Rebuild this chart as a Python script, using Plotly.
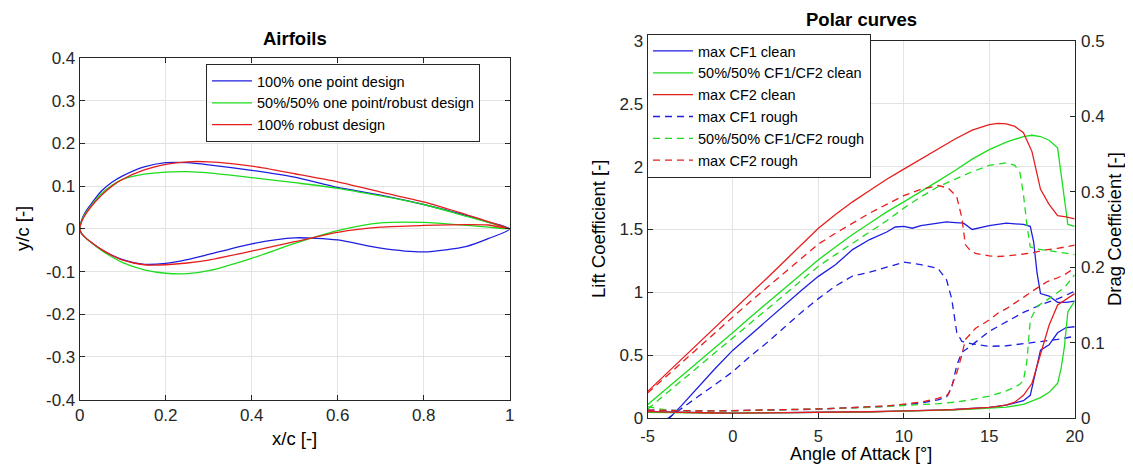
import plotly.graph_objects as go

# ---------------- Airfoil data ----------------
x_af = [0, 0.005, 0.0125, 0.025, 0.05, 0.075, 0.1, 0.15, 0.2, 0.25, 0.3, 0.4, 0.5, 0.6, 0.7, 0.8, 0.9, 0.95, 1.0]
up_one_point = [0, 0.022, 0.038, 0.056, 0.088, 0.109, 0.124, 0.145, 0.155, 0.155, 0.150, 0.137, 0.121, 0.097, 0.079, 0.057, 0.031, 0.016, 0]
lo_one_point = [0, -0.012, -0.02, -0.03, -0.048, -0.062, -0.072, -0.083, -0.081, -0.072, -0.06, -0.035, -0.021, -0.026, -0.045, -0.054, -0.041, -0.023, 0]
up_mixed = [0, 0.02, 0.035, 0.052, 0.082, 0.102, 0.116, 0.128, 0.133, 0.134, 0.131, 0.12, 0.108, 0.095, 0.077, 0.057, 0.029, 0.015, 0]
lo_mixed = [0, -0.012, -0.02, -0.031, -0.05, -0.066, -0.079, -0.096, -0.104, -0.105, -0.098, -0.069, -0.034, -0.004, 0.014, 0.015, 0.008, 0.004, 0]
up_robust = [0, 0.018, 0.032, 0.05, 0.078, 0.1, 0.116, 0.138, 0.151, 0.157, 0.157, 0.147, 0.129, 0.11, 0.086, 0.063, 0.033, 0.017, 0]
lo_robust = [0, -0.012, -0.02, -0.03, -0.048, -0.062, -0.073, -0.084, -0.084, -0.08, -0.073, -0.052, -0.03, -0.008, 0.004, 0.008, 0.01, 0.009, 0]
airfoil_names = ["100% one point design", "50%/50% one point/robust design", "100% robust design"]

# ---------------- Polar data ----------------
aoa_cf1_clean = [-5, -4, -3, -2, -1, 0, 1, 2, 3, 4, 5, 6, 7, 8, 9, 9.5, 10, 10.5, 11, 12, 12.5, 13, 13.5, 14, 14.5, 15, 16, 17, 17.4, 17.6, 17.8, 18, 18.5, 19, 19.5, 20]
cl_cf1_clean = [-0.19, -0.04, 0.10, 0.25, 0.40, 0.54, 0.66, 0.78, 0.90, 1.015, 1.127, 1.22, 1.34, 1.42, 1.48, 1.52, 1.525, 1.51, 1.53, 1.55, 1.56, 1.555, 1.55, 1.50, 1.515, 1.53, 1.55, 1.54, 1.525, 1.40, 1.15, 0.99, 0.97, 0.92, 0.92, 0.93]
cd_cf1_clean = [0.0085, 0.0078, 0.0072, 0.0068, 0.0066, 0.0065, 0.0066, 0.0067, 0.0069, 0.0071, 0.0074, 0.0077, 0.008, 0.0083, 0.0087, 0.0089, 0.0091, 0.0094, 0.0097, 0.0104, 0.0108, 0.0113, 0.0118, 0.0125, 0.0133, 0.0142, 0.017, 0.023, 0.03, 0.05, 0.072, 0.09, 0.097, 0.113, 0.12, 0.121]

aoa_mix_clean = [-5, -4, -3, -2, -1, 0, 1, 2, 3, 4, 5, 6, 7, 8, 9, 10, 11, 12, 13, 14, 15, 16, 17, 17.5, 18, 18.5, 19, 19.2, 19.4, 19.6, 20]
cl_mix_clean = [0.106, 0.22, 0.335, 0.45, 0.565, 0.68, 0.80, 0.915, 1.03, 1.145, 1.26, 1.36, 1.46, 1.55, 1.64, 1.72, 1.80, 1.885, 1.97, 2.06, 2.135, 2.195, 2.24, 2.25, 2.24, 2.21, 2.15, 1.95, 1.72, 1.54, 1.525]
cd_mix_clean = [0.0075, 0.007, 0.0067, 0.0065, 0.0064, 0.0064, 0.0065, 0.0066, 0.0068, 0.007, 0.0073, 0.0076, 0.0079, 0.0082, 0.0086, 0.009, 0.0095, 0.0101, 0.0108, 0.0117, 0.0128, 0.0145, 0.018, 0.022, 0.027, 0.034, 0.046, 0.065, 0.095, 0.141, 0.155]

aoa_cf2_clean = [-5, -4, -3, -2, -1, 0, 1, 2, 3, 4, 5, 6, 7, 8, 9, 10, 11, 12, 13, 14, 15, 15.5, 16, 16.5, 17, 17.5, 18, 18.5, 19, 19.5, 20]
cl_cf2_clean = [0.21, 0.338, 0.466, 0.594, 0.722, 0.85, 0.982, 1.114, 1.246, 1.378, 1.51, 1.62, 1.72, 1.81, 1.90, 1.98, 2.06, 2.14, 2.22, 2.29, 2.335, 2.345, 2.34, 2.32, 2.27, 2.12, 1.82, 1.70, 1.61, 1.60, 1.585]
cd_cf2_clean = [0.0085, 0.0078, 0.0072, 0.0068, 0.0066, 0.0065, 0.0066, 0.0067, 0.0069, 0.0071, 0.0074, 0.0077, 0.008, 0.0083, 0.0087, 0.0091, 0.0097, 0.0104, 0.0113, 0.0125, 0.0142, 0.0155, 0.0175, 0.021, 0.03, 0.046, 0.085, 0.123, 0.15, 0.158, 0.165]

aoa_cf1_rough = [-5, -4, -3, -2, -1, 0, 1, 2, 3, 4, 5, 6, 7, 7.5, 8, 9, 10, 11, 12, 12.5, 12.8, 13.1, 13.4, 14, 15, 16, 17, 18, 19, 20]
cl_cf1_rough = [-0.12, -0.02, 0.08, 0.175, 0.27, 0.37, 0.49, 0.60, 0.72, 0.84, 0.95, 1.05, 1.13, 1.145, 1.16, 1.20, 1.24, 1.22, 1.19, 1.10, 0.95, 0.68, 0.61, 0.59, 0.57, 0.575, 0.59, 0.605, 0.625, 0.65]
cd_cf1_rough = [0.0105, 0.0098, 0.0094, 0.0093, 0.0094, 0.0096, 0.0099, 0.0103, 0.0107, 0.0112, 0.0118, 0.0125, 0.0133, 0.0137, 0.0142, 0.0155, 0.0175, 0.020, 0.024, 0.028, 0.04, 0.07, 0.087, 0.097, 0.115, 0.127, 0.14, 0.15, 0.158, 0.168]

aoa_mix_rough = [-5, -4, -3, -2, -1, 0, 1, 2, 3, 4, 5, 6, 7, 8, 9, 10, 11, 12, 13, 14, 15, 16, 16.5, 16.8, 17, 17.2, 17.4, 17.8, 18.6, 19.4, 20]
cl_mix_rough = [0.07, 0.183, 0.296, 0.41, 0.523, 0.636, 0.75, 0.865, 0.98, 1.093, 1.207, 1.30, 1.39, 1.48, 1.57, 1.67, 1.76, 1.84, 1.90, 1.96, 2.01, 2.03, 2.01, 1.95, 1.78, 1.54, 1.36, 1.345, 1.33, 1.31, 1.30]
cd_mix_rough = [0.015, 0.011, 0.0095, 0.0093, 0.0094, 0.0096, 0.0099, 0.0103, 0.0107, 0.0112, 0.0118, 0.0125, 0.0133, 0.0142, 0.0152, 0.0163, 0.0176, 0.019, 0.021, 0.0245, 0.029, 0.036, 0.041, 0.045, 0.05, 0.075, 0.13, 0.148, 0.16, 0.173, 0.19]

aoa_cf2_rough = [-5, -4, -3, -2, -1, 0, 1, 2, 3, 4, 5, 6, 7, 8, 9, 10, 11, 12, 12.6, 13.1, 13.4, 13.6, 13.9, 14.2, 15, 15.5, 16, 16.5, 17, 17.5, 18, 18.4, 19, 19.4, 20]
cl_cf2_rough = [0.198, 0.32, 0.443, 0.565, 0.688, 0.81, 0.925, 1.04, 1.155, 1.27, 1.384, 1.47, 1.55, 1.63, 1.70, 1.77, 1.82, 1.85, 1.83, 1.76, 1.59, 1.38, 1.33, 1.31, 1.29, 1.285, 1.29, 1.295, 1.305, 1.315, 1.33, 1.34, 1.35, 1.36, 1.375]
cd_cf2_rough = [0.0105, 0.0098, 0.0094, 0.0093, 0.0094, 0.0097, 0.01, 0.0104, 0.0109, 0.0114, 0.012, 0.0128, 0.0137, 0.0148, 0.016, 0.0185, 0.021, 0.026, 0.031, 0.06, 0.084, 0.104, 0.112, 0.119, 0.13, 0.139, 0.145, 0.152, 0.16, 0.168, 0.175, 0.181, 0.186, 0.19, 0.199]

polar_names = ["max CF1 clean", "50%/50% CF1/CF2 clean", "max CF2 clean",
               "max CF1 rough", "50%/50% CF1/CF2 rough", "max CF2 rough"]

# ticks
af_x_ticks = [0, 0.2, 0.4, 0.6, 0.8, 1]
af_x_labels = ["0", "0.2", "0.4", "0.6", "0.8", "1"]
af_y_ticks = [-0.4, -0.3, -0.2, -0.1, 0, 0.1, 0.2, 0.3, 0.4]
af_y_labels = ["-0.4", "-0.3", "-0.2", "-0.1", "0", "0.1", "0.2", "0.3", "0.4"]
pc_x_ticks = [-5, 0, 5, 10, 15, 20]
pc_x_labels = ["-5", "0", "5", "10", "15", "20"]
pc_cl_ticks = [0, 0.5, 1, 1.5, 2, 2.5, 3]
pc_cl_labels = ["0", "0.5", "1", "1.5", "2", "2.5", "3"]
pc_cd_ticks = [0, 0.1, 0.2, 0.3, 0.4, 0.5]
pc_cd_labels = ["0", "0.1", "0.2", "0.3", "0.4", "0.5"]

# ---------------- styling ----------------
W, H = 1133, 467
BLUE = "rgb(30,30,225)"
GREEN = "rgb(30,220,30)"
RED = "rgb(230,30,30)"
AX = "#262626"
GRID = "#e3e3e3"
FONT = "Liberation Sans, Arial, Helvetica, sans-serif"
LW = 1.3
DASH = "7px,5px"

def px_x(p):
    return p / W

def px_y(p):
    return 1 - p / H

fig = go.Figure()

# Airfoils
for name, up, lo, col in [(airfoil_names[0], up_one_point, lo_one_point, BLUE),
                          (airfoil_names[1], up_mixed, lo_mixed, GREEN),
                          (airfoil_names[2], up_robust, lo_robust, RED)]:
    xs = list(reversed(x_af)) + x_af[1:]
    ys = list(reversed(up)) + lo[1:]
    fig.add_trace(go.Scatter(x=xs, y=ys, mode="lines", name=name,
                             line=dict(color=col, width=LW, shape="spline", smoothing=0.7),
                             xaxis="x", yaxis="y", legend="legend"))

# Polars
series = [
    (polar_names[0], aoa_cf1_clean, cl_cf1_clean, cd_cf1_clean, BLUE, "solid"),
    (polar_names[1], aoa_mix_clean, cl_mix_clean, cd_mix_clean, GREEN, "solid"),
    (polar_names[2], aoa_cf2_clean, cl_cf2_clean, cd_cf2_clean, RED, "solid"),
    (polar_names[3], aoa_cf1_rough, cl_cf1_rough, cd_cf1_rough, BLUE, DASH),
    (polar_names[4], aoa_mix_rough, cl_mix_rough, cd_mix_rough, GREEN, DASH),
    (polar_names[5], aoa_cf2_rough, cl_cf2_rough, cd_cf2_rough, RED, DASH),
]
for name, a, cl, cd, col, dash in series:
    fig.add_trace(go.Scatter(x=a, y=cl, mode="lines", name=name,
                             line=dict(color=col, width=LW, dash=dash),
                             xaxis="x2", yaxis="y2", legend="legend2"))
    fig.add_trace(go.Scatter(x=a, y=cd, mode="lines", name=name + " (drag)",
                             line=dict(color=col, width=LW, dash=dash), showlegend=False,
                             xaxis="x2", yaxis="y3", legend="legend2"))

tickfont = dict(family=FONT, size=17, color=AX)
common = dict(showline=True, linecolor=AX, linewidth=1, ticks="inside", ticklen=5,
              tickcolor=AX, showgrid=True, gridcolor=GRID, gridwidth=1, zeroline=False,
              tickfont=tickfont, automargin=False)

fig.update_layout(
    width=W, height=H,
    margin=dict(l=0, r=0, t=0, b=0),
    paper_bgcolor="white", plot_bgcolor="white",
    font=dict(family=FONT, color=AX),
    xaxis=dict(domain=[px_x(71.7), px_x(501.7)], range=[0, 1], anchor="y",
               tickvals=af_x_ticks, ticktext=af_x_labels, mirror="ticks", **common),
    yaxis=dict(domain=[px_y(391.7), px_y(50)], range=[-0.4, 0.4], anchor="x",
               tickvals=af_y_ticks, ticktext=af_y_labels, mirror="ticks", **common),
    xaxis2=dict(domain=[px_x(639.5), px_x(1066.7)], range=[-5, 20], anchor="y2",
                tickvals=pc_x_ticks, ticktext=pc_x_labels, mirror=True, ticklabelstandoff=3,
                **{**common, "tickfont": dict(family=FONT, size=16.5, color=AX)}),
    yaxis2=dict(domain=[px_y(410), px_y(33)], range=[0, 3], anchor="x2",
                tickvals=pc_cl_ticks, ticktext=pc_cl_labels, **common),
    yaxis3=dict(range=[0, 0.5], overlaying="y2", side="right", anchor="x2",
                tickvals=pc_cd_ticks, ticktext=pc_cd_labels, ticklabelstandoff=2,
                **{**common, "showgrid": False}),
    legend=dict(x=px_x(198), y=px_y(56), xanchor="left", yanchor="top",
                bgcolor="white", bordercolor=AX, borderwidth=1,
                font=dict(family=FONT, size=14.5, color="black"),
                itemwidth=40, tracegroupgap=0),
    legend2=dict(x=px_x(639), y=px_y(26), xanchor="left", yanchor="top",
                 bgcolor="white", bordercolor=AX, borderwidth=1,
                 font=dict(family=FONT, size=14.5, color="black"),
                 itemwidth=40, tracegroupgap=0),
    showlegend=True,
)

ann = []
def add_text(text, x, y, size, bold=False, angle=0):
    ann.append(dict(text=("<b>%s</b>" % text) if bold else text,
                    x=px_x(x), y=px_y(y), xref="paper", yref="paper",
                    xanchor="center", yanchor="middle", showarrow=False,
                    textangle=angle, borderpad=0,
                    font=dict(family=FONT, size=size, color="black")))

add_text("Airfoils", 286.7, 30, 18.5, bold=True)
add_text("Polar curves", 853, 12, 18.5, bold=True)
add_text("x/c [-]", 286.7, 430, 18.5)
add_text("y/c [-]", 14, 221, 18.5, angle=-90)
add_text("Angle of Attack [°]", 853, 446, 18)
add_text("Lift Coefficient [-]", 590, 221, 18.5, angle=-90)
add_text("Drag Coefficient [-]", 1106, 221, 18.5, angle=-90)
fig.update_layout(annotations=ann)

fig.write_html("out.html")
